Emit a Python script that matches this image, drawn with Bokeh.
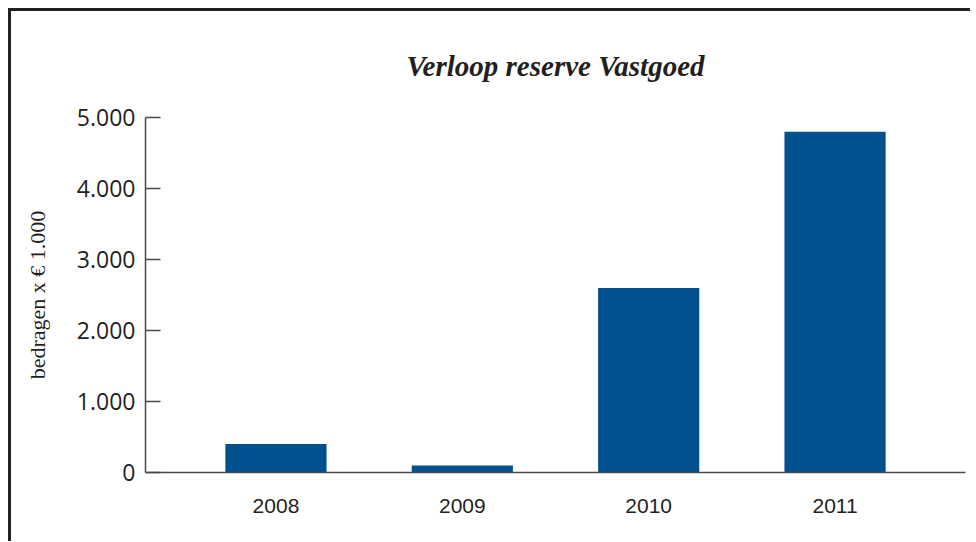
from bokeh.plotting import figure
from bokeh.models import FactorRange, Range1d, FixedTicker
from bokeh.embed import file_html
from bokeh.resources import INLINE

# Data
years = ["2008", "2009", "2010", "2011"]
values = [400, 100, 2600, 4800]
y_ticks = [0, 1000, 2000, 3000, 4000, 5000]
y_tick_labels = ["0", "1.000", "2.000", "3.000", "4.000", "5.000"]
title_text = "Verloop reserve Vastgoed"
y_label = "bedragen x € 1.000"

BAR = "#02518f"
INK = "#231f20"
AXIS = "#4a4a4a"

p = figure(
    x_range=FactorRange(*years, range_padding=0.2, range_padding_units="absolute"),
    y_range=Range1d(0, 5000),
    frame_width=820, frame_height=355,
    min_border_left=134, min_border_right=5,
    min_border_top=106, min_border_bottom=69,
    output_backend="svg", toolbar_location=None,
    title=title_text,
)
p.styles = {"border-left": "3px solid #222222", "border-top": "3px solid #222222",
            "margin-left": "8px", "margin-top": "8px"}

p.vbar(x=years, top=values, width=0.543, color=BAR, line_color=None)

p.title.align = "center"
p.title.text_font = "Liberation Serif"
p.title.text_font_style = "bold italic"
p.title.text_font_size = "29px"
p.title.text_color = INK
p.title.standoff = 72

p.outline_line_color = None
p.xgrid.grid_line_color = None
p.ygrid.grid_line_color = None
p.background_fill_color = "white"
p.border_fill_color = "white"

ya = p.yaxis[0]
ya.ticker = FixedTicker(ticks=y_ticks)
ya.major_label_overrides = {t: l for t, l in zip(y_ticks, y_tick_labels)}
ya.major_tick_in = 15
ya.major_tick_out = 0
ya.minor_tick_in = 0
ya.minor_tick_out = 0
ya.major_tick_line_color = AXIS
ya.major_tick_line_width = 1.5
ya.axis_line_color = AXIS
ya.axis_line_width = 1.5
ya.major_label_text_font = "Open Sans"
ya.major_label_text_font_size = "23px"
ya.major_label_text_color = INK
ya.major_label_standoff = 10
ya.axis_label = y_label
ya.axis_label_text_font = "Liberation Serif"
ya.axis_label_text_font_style = "normal"
ya.axis_label_text_font_size = "22px"
ya.axis_label_text_color = INK
ya.axis_label_standoff = 24

xa = p.xaxis[0]
xa.major_tick_in = 0
xa.major_tick_out = 0
xa.axis_line_color = AXIS
xa.axis_line_width = 1.5
xa.major_label_text_font = "Liberation Sans"
xa.major_label_text_font_size = "21px"
xa.major_label_text_color = INK
xa.major_label_standoff = 26

open("out.html", "w").write(file_html(p, INLINE))
